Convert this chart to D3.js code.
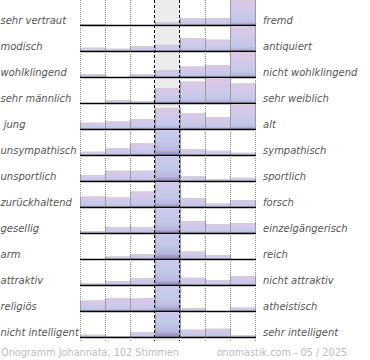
<!DOCTYPE html>
<html><head><meta charset="utf-8">
<script src="https://cdn.jsdelivr.net/npm/d3@7"></script>
<style>
html,body{margin:0;padding:0;background:#fff;}
svg{display:block;}
text{font-family:"DejaVu Sans",sans-serif;}
</style></head>
<body>
<script>
// Data (bar heights per row, 7 rating columns; neutral column in the middle)
const leftLabels = ["sehr vertraut","modisch","wohlklingend","sehr männlich"," jung","unsympathisch","unsportlich","zurückhaltend","gesellig","arm","attraktiv","religiös","nicht intelligent"];
const rightLabels = ["fremd","antiquiert","nicht wohlklingend","sehr weiblich","alt","sympathisch","sportlich","forsch","einzelgängerisch","reich","nicht attraktiv","atheistisch","sehr intelligent"];
const vertraut      = [1, 0, 0, 3, 7, 7, 25];
const modisch       = [3.3, 2.3, 5, 6.3, 12.7, 11.3, 25];
const wohlklingend  = [3, 0, 3, 7, 10.5, 12, 25];
const maennlich     = [0, 3, 2, 15, 21.5, 25, 19.5];
const jung          = [6.3, 7.7, 9.7, 20.7, 15.7, 11.7, 25];
const unsympathisch = [3.3, 6.7, 11.7, 66, 5.7, 4.3, 2.3];
const unsportlich   = [6, 10.3, 10.3, 63, 4.7, 2, 3.3];
const zurueck       = [10.5, 9.5, 15.5, 45, 9, 3.5, 7];
const gesellig      = [2, 6, 6, 55, 12, 9, 10];
const arm           = [0, 2.5, 5, 81, 7.5, 4, 0];
const attraktiv     = [1.7, 4, 6.7, 66, 7.3, 5, 9];
const religioes     = [10.5, 13, 13, 57, 3, 0, 3.5];
const intelligent   = [2.3, 0.7, 5, 75, 7.3, 8.3, 1.7];
const rows = [vertraut, modisch, wohlklingend, maennlich, jung, unsympathisch, unsportlich, zurueck, gesellig, arm, attraktiv, religioes, intelligent];
const columns = [0,1,2,3,4,5,6];
const footerLeft = "Onogramm Johannata, 102 Stimmen";
const footerRight = "onomastik.com - 05 / 2025";

const W = 370, H = 360;
const svg = d3.select("body").append("svg").attr("width", W).attr("height", H);

const x = d3.scaleBand().domain(columns).range([80, 255]);
const yRow = d3.scaleBand().domain(d3.range(rows.length)).range([-1, 337]);
const hScale = d3.scaleLinear().domain([0, 25]).range([0, 25]);
const gridTop = 0, gridBottom = 341;

const defs = svg.append("defs");
const grad = defs.append("linearGradient").attr("id", "barGrad")
  .attr("x1", 0).attr("y1", 0).attr("x2", 0).attr("y2", 1);
[[0, "#dfc6e6"], [0.45, "#d0c9e9"], [0.8, "#c3c9e9"], [0.93, "#b6b6de"], [1, "#9282bb"]]
  .forEach(([o, c]) => grad.append("stop").attr("offset", o).attr("stop-color", c));

// neutral column background
svg.append("rect").attr("x", x(3)).attr("y", gridTop)
  .attr("width", x.bandwidth()).attr("height", gridBottom - gridTop).attr("fill", "#ececec");

// dotted grid lines
const boundaries = [0,1,2,5,6,7].map(i => i < 7 ? x.range()[0] + i * x.step() : x.range()[1]);
svg.append("g").selectAll("line").data(boundaries).join("line")
  .attr("x1", d => Math.round(d) + 0.5).attr("x2", d => Math.round(d) + 0.5)
  .attr("y1", gridTop).attr("y2", gridBottom)
  .attr("stroke", "#888").attr("stroke-width", 1).attr("stroke-dasharray", "1,1");

rows.forEach((vals, r) => {
  const top = yRow(r), base = top + yRow.bandwidth();
  const clipId = "clip" + r;
  defs.append("clipPath").attr("id", clipId).append("rect")
    .attr("x", 0).attr("y", Math.max(top + 1, 0)).attr("width", W).attr("height", base - Math.max(top + 1, 0) + 3);
  const g = svg.append("g").attr("clip-path", `url(#${clipId})`);
  const data = vals.map((v, c) => ({v, c})).filter(d => d.v > 0);
  g.selectAll("rect.bar").data(data).join("rect").attr("class", "bar")
    .attr("x", d => x(d.c)).attr("y", d => base - hScale(d.v))
    .attr("width", x.bandwidth()).attr("height", d => hScale(d.v))
    .attr("fill", "url(#barGrad)");
  // top edge
  g.selectAll("line.top").data(data).join("line").attr("class", "top")
    .attr("x1", d => x(d.c)).attr("x2", d => x(d.c) + x.bandwidth())
    .attr("y1", d => base - hScale(d.v) + 0.5).attr("y2", d => base - hScale(d.v) + 0.5)
    .attr("stroke", "#cfcfcf").attr("stroke-width", 1);
  // side edges
  g.selectAll("line.l").data(data).join("line").attr("class", "l")
    .attr("x1", d => Math.round(x(d.c)) + 0.5).attr("x2", d => Math.round(x(d.c)) + 0.5)
    .attr("y1", d => base - hScale(d.v)).attr("y2", base)
    .attr("stroke", "#9a9a9a").attr("stroke-width", 1);
  g.selectAll("line.r").data(data).join("line").attr("class", "r")
    .attr("x1", d => Math.round(x(d.c) + x.bandwidth()) + 0.5).attr("x2", d => Math.round(x(d.c) + x.bandwidth()) + 0.5)
    .attr("y1", d => base - hScale(d.v)).attr("y2", base)
    .attr("stroke", "#9a9a9a").attr("stroke-width", 1);
  // baseline
  svg.append("line").attr("x1", x.range()[0]).attr("x2", x.range()[1] + 1)
    .attr("y1", base + 1.5).attr("y2", base + 1.5).attr("stroke", "#c4c4c4").attr("stroke-width", 1);
  svg.append("line").attr("x1", x.range()[0]).attr("x2", x.range()[1] + 1)
    .attr("y1", base + 0.4).attr("y2", base + 0.4).attr("stroke", "#000").attr("stroke-width", 1.4);
  // labels
  svg.append("text").attr("x", 0.5).attr("y", base - 1)
    .attr("font-size", 10).attr("font-style", "italic").attr("fill", "#555")
    .style("white-space", "pre").text(leftLabels[r]);
  svg.append("text").attr("x", 263).attr("y", base - 1)
    .attr("font-size", 10).attr("font-style", "italic").attr("fill", "#555")
    .text(rightLabels[r]);
});

// dashed lines around neutral column
svg.append("g").selectAll("line").data([x(3), x(4)]).join("line")
  .attr("x1", d => Math.round(d) - 0.5).attr("x2", d => Math.round(d) - 0.5)
  .attr("y1", gridTop).attr("y2", gridBottom)
  .attr("stroke", "#000").attr("stroke-width", 1).attr("stroke-dasharray", "3,2");

// footer
svg.append("text").attr("x", 1).attr("y", 355.5).attr("font-size", 9.7).attr("fill", "#bbb").text(footerLeft);
svg.append("text").attr("x", 347).attr("y", 355.5).attr("text-anchor", "end").attr("font-size", 9.7).attr("fill", "#bbb").text(footerRight);
</script>
</body></html>
